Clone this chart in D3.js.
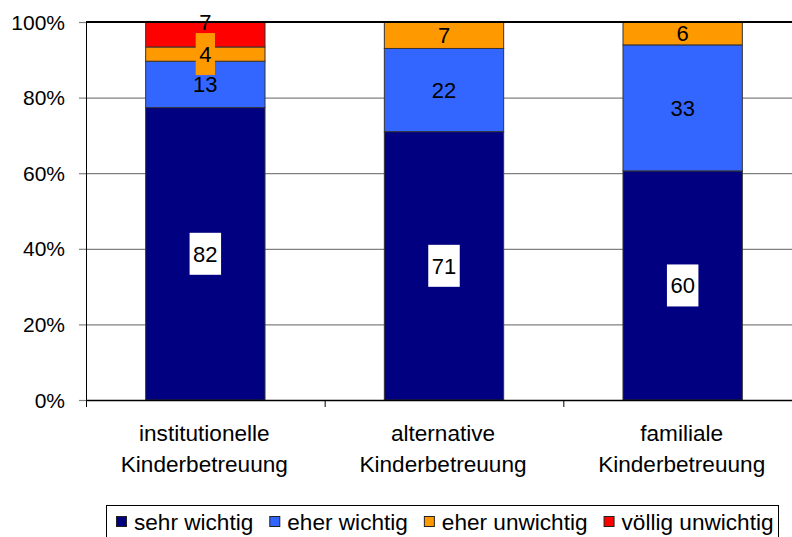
<!DOCTYPE html>
<html>
<head>
<meta charset="utf-8">
<script src="https://cdn.jsdelivr.net/npm/d3@7"></script>
<style>
  body { margin: 0; background: #fff; }
  svg { display: block; font-family: "Liberation Sans", Arial, sans-serif; }
</style>
</head>
<body>
<div id="chart"></div>
<script>
const categories = [
  ['institutionelle', 'Kinderbetreuung'],
  ['alternative', 'Kinderbetreuung'],
  ['familiale', 'Kinderbetreuung'],
];
const seriesNames = ['sehr wichtig', 'eher wichtig', 'eher unwichtig', 'völlig unwichtig'];
const sehrWichtig = [82, 71, 60];
const eherWichtig = [13, 22, 33];
const eherUnwichtig = [4, 7, 6];
const voelligUnwichtig = [7, 0, 0];
const yTicks = [0, 0.2, 0.4, 0.6, 0.8, 1];

const colors = ['#000080', '#3366ff', '#ff9900', '#ff0000'];

const W = 792, H = 537;
const margin = { top: 22, left: 86, bottom: 137 };
const plotBottom = H - margin.bottom;

const rows = categories.map((c, i) => ({
  cat: i,
  s0: sehrWichtig[i], s1: eherWichtig[i], s2: eherUnwichtig[i], s3: voelligUnwichtig[i],
}));
const keys = ['s0', 's1', 's2', 's3'];
const stacked = d3.stack().keys(keys).offset(d3.stackOffsetExpand)(rows);

const svg = d3.select('#chart').append('svg').attr('width', W).attr('height', H);

const x = d3.scaleBand().domain(d3.range(categories.length))
  .range([margin.left, margin.left + 716]).paddingInner(0.5).paddingOuter(0.25);
const y = d3.scaleLinear().domain([0, 1]).range([plotBottom, margin.top]);

// gridlines
svg.append('g').selectAll('line').data(yTicks.filter((t) => t > 0 && t < 1)).join('line')
  .attr('x1', margin.left).attr('x2', W).attr('y1', (d) => y(d) + 0.5).attr('y2', (d) => y(d) + 0.5)
  .attr('stroke', '#808080').attr('stroke-width', 1.2);

// bars
const layer = svg.append('g').selectAll('g').data(stacked).join('g')
  .attr('fill', (d, i) => colors[i]);
layer.selectAll('rect').data((d) => d.filter((p) => p[1] - p[0] > 0)).join('rect')
  .attr('x', (d) => x(d.data.cat))
  .attr('width', x.bandwidth())
  .attr('y', (d) => y(d[1]))
  .attr('height', (d) => y(d[0]) - y(d[1]))
  .attr('stroke', '#333').attr('stroke-width', 1);

// top border
svg.append('line').attr('x1', margin.left).attr('x2', W)
  .attr('y1', y(1)).attr('y2', y(1)).attr('stroke', '#000').attr('stroke-width', 2);

// y axis
svg.append('line').attr('x1', margin.left + 0.5).attr('x2', margin.left + 0.5)
  .attr('y1', y(1)).attr('y2', plotBottom).attr('stroke', '#000');
svg.append('g').selectAll('line').data(yTicks).join('line')
  .attr('x1', margin.left - 7).attr('x2', margin.left)
  .attr('y1', (d) => y(d) + 0.5).attr('y2', (d) => y(d) + 0.5)
  .attr('stroke', '#808080').attr('stroke-width', 1.2);
svg.append('g').selectAll('text').data(yTicks).join('text')
  .attr('x', margin.left - 21).attr('y', (d) => y(d)).attr('dy', '0.36em')
  .attr('text-anchor', 'end').attr('font-size', 21)
  .text((d) => d3.format('.0%')(d));

// x axis
svg.append('line').attr('x1', margin.left).attr('x2', W)
  .attr('y1', plotBottom + 0.5).attr('y2', plotBottom + 0.5).attr('stroke', '#000').attr('stroke-width', 1.3);
const step = x.step();
svg.append('g').selectAll('line').data(d3.range(categories.length)).join('line')
  .attr('x1', (d) => x(d) - step * 0.25 + 0.5).attr('x2', (d) => x(d) - step * 0.25 + 0.5)
  .attr('y1', plotBottom).attr('y2', plotBottom + 7).attr('stroke', '#000');

const catText = svg.append('g').selectAll('text').data(categories).join('text')
  .attr('text-anchor', 'middle').attr('font-size', 22.6)
  .attr('x', (d, i) => x(i) + x.bandwidth() / 2 - 1);
catText.selectAll('tspan').data((d) => d).join('tspan')
  .attr('x', function () { return this.parentNode.getAttribute('x'); })
  .attr('y', (d, j) => plotBottom + 41 + j * 31)
  .text((d) => d);

// data labels
const labels = [];
stacked.forEach((s, si) => {
  s.forEach((p) => {
    if (p[1] - p[0] <= 0) return;
    const raw = p.data[keys[si]];
    // red label sits on the top edge, the rest centred in the segment
    const cy = si === 3 ? y(p[1]) : y((p[0] + p[1]) / 2);
    let bg = null;
    if (si === 0) bg = '#fff';
    if (si === 2 && p.data.cat === 0) bg = colors[2];
    labels.push({ cx: x(p.data.cat) + x.bandwidth() / 2, cy, text: raw, bg });
  });
});
const lg = svg.append('g').selectAll('g').data(labels).join('g');
lg.each(function (d) {
  const g = d3.select(this);
  const rect = g.append('rect');
  const t = g.append('text').attr('x', d.cx).attr('y', d.cy).attr('dy', '0.36em')
    .attr('text-anchor', 'middle').attr('font-size', 22).attr('fill', '#000').text(d.text);
  if (d.bg) {
    const w = t.node().getComputedTextLength() + 7;
    rect.attr('x', d.cx - w / 2).attr('y', d.cy - 21).attr('width', w).attr('height', 42)
      .attr('fill', d.bg);
  } else rect.remove();
});

// legend
const legend = svg.append('g');
legend.append('rect').attr('x', 106.5).attr('y', 505.5).attr('width', 672).attr('height', 40)
  .attr('fill', '#fff').attr('stroke', '#000');
let lx = 116;
seriesNames.forEach((name, i) => {
  legend.append('rect').attr('x', lx + 0.5).attr('y', 516.5).attr('width', 10).attr('height', 10)
    .attr('fill', colors[i]).attr('stroke', '#222');
  const t = legend.append('text').attr('x', lx + 18).attr('y', 530)
    .attr('font-size', 22.6).text(name);
  lx += 18 + t.node().getComputedTextLength() + 16;
});
</script>
</body>
</html>
